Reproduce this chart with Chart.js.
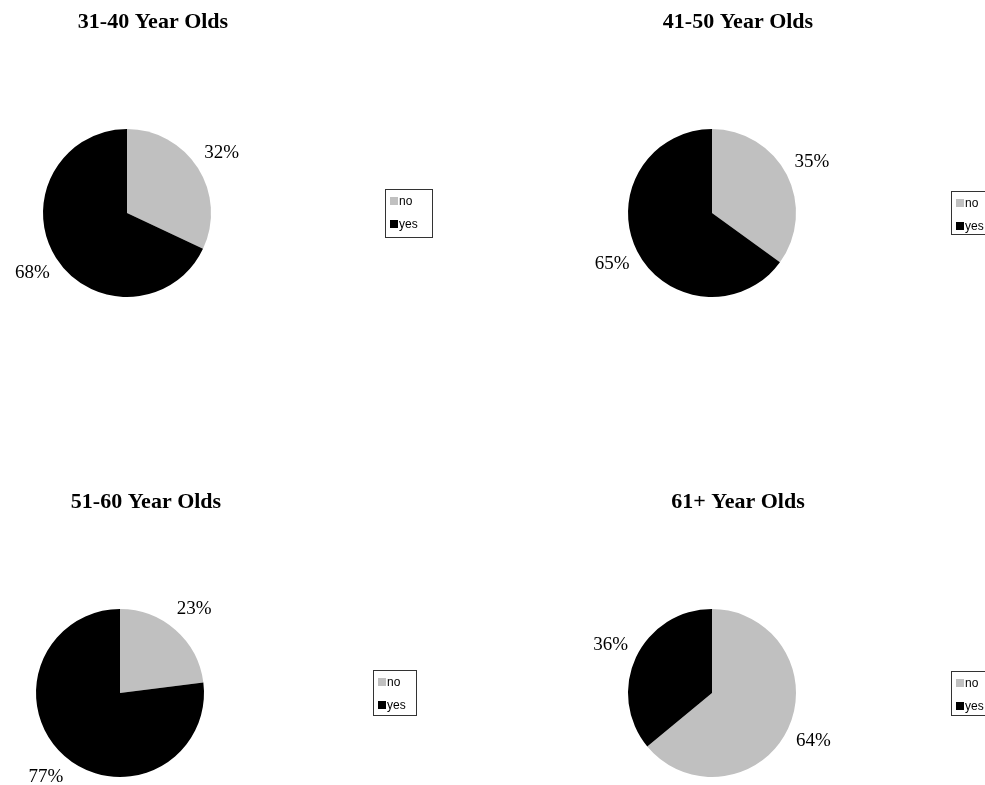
<!DOCTYPE html>
<html lang="en">
<head>
    <meta charset="UTF-8">
    <title>Answers by Age Group</title>
    <script src="https://cdn.jsdelivr.net/npm/chart.js"></script>
    <style>
        body {
            margin: 0;
            background-color: #ffffff;
        }
        .board {
            position: relative;
            width: 985px;
            height: 785px;
            overflow: hidden;
        }
        .board canvas {
            position: absolute;
        }
    </style>
</head>
<body>
    <div class="board">
        <canvas id="pie1" width="492" height="480" style="left:0;top:0"></canvas>
        <canvas id="pie2" width="493" height="480" style="left:492px;top:0"></canvas>
        <canvas id="pie3" width="492" height="305" style="left:0;top:480px"></canvas>
        <canvas id="pie4" width="493" height="305" style="left:492px;top:480px"></canvas>
    </div>

    <script>
        // data
        const answers = ['no', 'yes'];
        const groups = ['31-40 Year Olds', '41-50 Year Olds', '51-60 Year Olds', '61+ Year Olds'];
        const noValues = [32, 35, 23, 64];
        const yesValues = [68, 65, 77, 36];

        const sliceColors = ['#c0c0c0', '#000000'];

        // where each pie and its legend box sit inside its canvas
        const layouts = [
            { padding: { left: 43, right: 281, top: 129, bottom: 183 }, titleX: 153, box: { x: 385, y: 189, w: 47, h: 48 } },
            { padding: { left: 136, right: 189, top: 129, bottom: 183 }, titleX: 246, box: { x: 459, y: 191, w: 44, h: 43 } },
            { padding: { left: 36, right: 288, top: 129, bottom: 8 }, titleX: 146, box: { x: 373, y: 190, w: 43, h: 45 } },
            { padding: { left: 136, right: 189, top: 129, bottom: 8 }, titleX: 246, box: { x: 459, y: 191, w: 44, h: 44 } }
        ];

        // title, outside percent labels and boxed legend
        const decorPlugin = {
            id: 'decor',
            afterDraw(chart, args, opts) {
                const ctx = chart.ctx;
                const meta = chart.getDatasetMeta(0);
                const values = chart.data.datasets[0].data;
                const total = values.reduce((a, b) => a + b, 0);

                ctx.save();
                // title
                ctx.fillStyle = '#000';
                ctx.font = 'bold 22px "Liberation Serif", "Times New Roman", serif';
                ctx.textAlign = 'center';
                ctx.textBaseline = 'alphabetic';
                ctx.fillText(opts.title, opts.titleX, 28);

                // percent labels outside each slice
                ctx.font = '19px "Liberation Serif", "Times New Roman", serif';
                ctx.textBaseline = 'middle';
                meta.data.forEach((arc, i) => {
                    const mid = (arc.startAngle + arc.endAngle) / 2;
                    const dist = arc.outerRadius + 28;
                    const lx = arc.x + Math.cos(mid) * dist;
                    const ly = arc.y + Math.sin(mid) * dist;
                    ctx.fillText(Math.round(values[i] / total * 100) + '%', lx, ly);
                });

                // legend
                const b = opts.box;
                ctx.strokeStyle = '#333';
                ctx.lineWidth = 1;
                ctx.strokeRect(b.x + 0.5, b.y + 0.5, b.w, b.h);
                ctx.font = '12px "Liberation Sans", Arial, sans-serif';
                ctx.textAlign = 'left';
                chart.data.labels.forEach((label, i) => {
                    const rowY = b.y + 12 + i * 23;
                    ctx.fillStyle = chart.data.datasets[0].backgroundColor[i];
                    ctx.fillRect(b.x + 5, rowY - 4, 8, 8);
                    ctx.fillStyle = '#000';
                    ctx.fillText(label, b.x + 14, rowY + 1);
                });
                ctx.restore();
            }
        };

        groups.forEach((group, i) => {
            const lay = layouts[i];
            new Chart(document.getElementById('pie' + (i + 1)), {
                type: 'pie',
                data: {
                    labels: answers,
                    datasets: [{
                        data: [noValues[i], yesValues[i]],
                        backgroundColor: sliceColors,
                        borderWidth: 0
                    }]
                },
                options: {
                    responsive: false,
                    animation: false,
                    layout: { padding: lay.padding },
                    plugins: {
                        legend: { display: false },
                        tooltip: { enabled: false },
                        decor: { title: group, titleX: lay.titleX, box: lay.box }
                    }
                },
                plugins: [decorPlugin]
            });
        });
    </script>
</body>
</html>
